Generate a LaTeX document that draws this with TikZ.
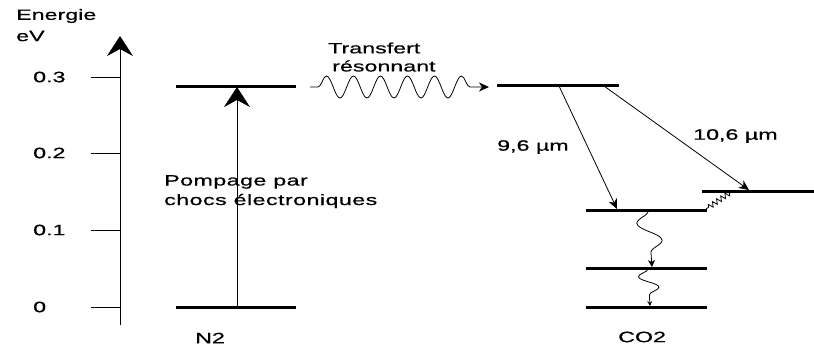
\documentclass[tikz,border=0pt]{standalone}
\usepackage{fontspec}
\setmainfont[FakeStretch=1.55,FakeBold=0.6]{Liberation Sans}
\usetikzlibrary{arrows.meta,decorations.pathmorphing}
\begin{document}
\begin{tikzpicture}[x=1pt,y=-1pt,
  lvl/.style={line width=3pt},
  thinline/.style={line width=0.8pt},
  lbl/.style={font=\fontsize{15}{19.5}\selectfont, inner sep=0pt, anchor=west},
  bigtip/.style={-{Stealth[length=20pt,width=26pt,inset=7pt]}},
  smalltip/.style={-{Stealth[length=10pt,width=9pt,inset=3pt]}},
]
\useasboundingbox (0,0) rectangle (814,349);
% axis
\coordinate (axb) at (120,325);
\coordinate (axt) at (120,36);
\draw[thinline, bigtip] (axb) -- (axt);
\foreach \n/\y in {t3/77, t2/153, t1/230, t0/307}{
  \coordinate (\n a) at (91,\y);
  \coordinate (\n b) at (120,\y);
  \draw[thinline] (\n a) -- (\n b);
}
\node[lbl] (en) at (16,16) {Energie};
\node[lbl] (ev) at (16,36) {eV};
\node[lbl] (l3) at (33,77) {0.3};
\node[lbl] (l2) at (33,153) {0.2};
\node[lbl] (l1) at (33,230) {0.1};
\node[lbl] (l0) at (33,307) {0};
% N2
\coordinate (n2ul) at (176,86); \coordinate (n2ur) at (296,86);
\coordinate (n2ll) at (176,307); \coordinate (n2lr) at (296,307);
\draw[lvl] (n2ul) -- (n2ur);
\draw[lvl] (n2ll) -- (n2lr);
\coordinate (pb) at (237,307); \coordinate (pt) at (237,87);
\draw[thinline, bigtip] (pb) -- (pt);
\node[lbl, anchor=north west, align=left, font=\fontsize{15}{19.5}\selectfont\addfontfeatures{LetterSpace=3}] (pomp) at (164,175) {Pompage par\\chocs électroniques};
\node[lbl] (n2) at (195,338) {N2};
% transfer
\coordinate (trs) at (310,87); \coordinate (tre) at (489,87);
\draw[thinline, smalltip, decorate, decoration={snake, segment length=27pt, amplitude=11pt, pre length=8pt, post length=10pt}] (trs) -- (tre);
\node[lbl] (tr1) at (328,48) {Transfert};
\node[lbl] (tr2) at (332,66) {résonnant};
% CO2
\coordinate (c3l) at (497,85); \coordinate (c3r) at (619,85);
\coordinate (c2l) at (702,191); \coordinate (c2r) at (814,191);
\coordinate (c1l) at (586,210); \coordinate (c1r) at (707,210);
\coordinate (cml) at (586,268); \coordinate (cmr) at (707,268);
\coordinate (c0l) at (586,307); \coordinate (c0r) at (707,307);
\foreach \a/\b in {c3l/c3r, c2l/c2r, c1l/c1r, cml/cmr, c0l/c0r}
  \draw[lvl] (\a) -- (\b);
\coordinate (a96s) at (559,86); \coordinate (a96e) at (617,209);
\coordinate (a106s) at (604,86); \coordinate (a106e) at (749,190);
\draw[thinline, smalltip] (a96s) -- (a96e);
\draw[thinline, smalltip] (a106s) -- (a106e);
\node[lbl] (w96) at (497,147) {9,6 µm};
\node[lbl] (w106) at (693,136) {10,6 µm};
\coordinate (w1s) at (648,211); \coordinate (w1e) at (652,267);
\coordinate (w2s) at (648,269); \coordinate (w2e) at (650,306);
\draw[thinline, -{Stealth[length=7pt,width=7pt,inset=2pt]}, decorate, decoration={snake, segment length=37pt, amplitude=-12pt, post length=3pt}] (w1s) -- (w1e);
\draw[thinline, -{Stealth[length=5pt,width=5pt,inset=2pt]}, decorate, decoration={snake, segment length=23pt, amplitude=-10pt, post length=3pt}] (w2s) -- (w2e);
\coordinate (zs) at (731,192); \coordinate (ze) at (706,209);
\draw[thinline, decorate, decoration={zigzag, segment length=5pt, amplitude=2.5pt, pre length=2pt, post length=2pt}] (zs) -- (ze);
\node[lbl] (co2) at (618,337) {CO2};
\end{tikzpicture}
\end{document}
